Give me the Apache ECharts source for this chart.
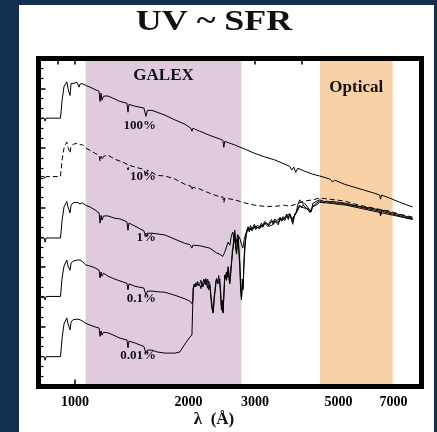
<!DOCTYPE html>
<html><head><meta charset="utf-8">
<script src="https://cdn.jsdelivr.net/npm/echarts@6/dist/echarts.min.js"></script>
<style>
html,body{margin:0;padding:0;background:#14304f;width:437px;height:432px;overflow:hidden;}
#panel{position:absolute;left:19px;top:5px;width:415px;height:427px;background:#fff;}
#chart{position:absolute;left:0;top:0;width:437px;height:432px;}
</style></head><body>
<div id="panel"></div><div id="chart"></div>
<script>
// wavelength (Angstrom), log flux with arbitrary offsets (1 unit = 1 decade)
const spec100 = [[813,4.00],[828,4.00],[833,3.95],[838,4.00],[902,4.00],[915,4.00],[924,4.30],[935,4.53],[951,4.61],[958,4.50],[964,4.43],[970,4.38],[976,4.58],[988,4.58],[1000,4.55],[1012,4.60],[1025,4.52],[1031,4.57],[1044,4.58],[1067,4.55],[1096,4.52],[1130,4.48],[1158,4.45],[1165,4.28],[1172,4.42],[1179,4.30],[1190,4.37],[1223,4.37],[1276,4.32],[1316,4.28],[1373,4.25],[1382,4.10],[1390,4.23],[1442,4.20],[1523,4.17],[1542,4.03],[1556,4.13],[1600,4.13],[1649,4.10],[1732,4.05],[1841,3.97],[1956,3.90],[2029,3.83],[2042,3.78],[2054,3.83],[2144,3.78],[2278,3.71],[2421,3.65],[2466,3.63],[2481,3.51],[2496,3.61],[2653,3.55],[2820,3.48],[2996,3.41],[3185,3.35],[3385,3.30],[3597,3.23],[3712,3.19],[3757,3.13],[3803,3.18],[3850,3.09],[3897,3.16],[4067,3.11],[4271,3.06],[4457,3.03],[4737,2.98],[4824,2.93],[4884,2.96],[5191,2.89],[5517,2.84],[5863,2.79],[6232,2.74],[6425,2.71],[6464,2.64],[6504,2.71],[6829,2.66],[7258,2.59],[7861,2.51]];
const spec10 = [[813,3.02],[828,3.02],[833,2.97],[838,3.02],[902,3.02],[915,3.02],[924,3.30],[935,3.50],[951,3.60],[958,3.51],[970,3.41],[976,3.53],[988,3.56],[1012,3.58],[1031,3.55],[1044,3.56],[1067,3.50],[1096,3.46],[1130,3.41],[1158,3.38],[1165,3.27],[1172,3.36],[1179,3.30],[1190,3.36],[1223,3.38],[1276,3.31],[1316,3.28],[1373,3.23],[1382,3.13],[1390,3.21],[1442,3.18],[1523,3.14],[1542,3.03],[1556,3.13],[1600,3.09],[1649,3.04],[1732,3.03],[1841,2.98],[1956,2.89],[2029,2.86],[2042,2.79],[2054,2.84],[2144,2.81],[2278,2.74],[2421,2.68],[2466,2.68],[2481,2.58],[2496,2.66],[2653,2.63],[2820,2.58],[2996,2.54],[3185,2.52],[3385,2.52],[3597,2.54],[3712,2.52],[3897,2.57],[4067,2.61],[4271,2.63],[4457,2.66],[4737,2.64],[5191,2.61],[5517,2.56],[5863,2.52],[6425,2.47],[6829,2.44],[7258,2.39],[7861,2.34]];
const spec1 = [[813,1.99],[828,1.99],[833,1.92],[838,1.99],[915,1.99],[924,2.29],[935,2.51],[951,2.60],[958,2.51],[970,2.41],[976,2.54],[988,2.58],[1012,2.59],[1031,2.56],[1044,2.58],[1067,2.54],[1096,2.51],[1130,2.46],[1158,2.41],[1165,2.24],[1172,2.37],[1179,2.29],[1190,2.36],[1223,2.36],[1276,2.32],[1316,2.31],[1373,2.26],[1382,2.12],[1390,2.24],[1442,2.19],[1523,2.11],[1542,2.01],[1556,2.07],[1600,2.07],[1649,2.06],[1732,2.04],[1841,1.97],[1956,1.90],[2017,1.88],[2042,1.82],[2054,1.87],[2144,1.86],[2278,1.82],[2373,1.74],[2420,1.72],[2466,1.68],[2494,1.75],[2522,1.74],[2548,1.92],[2574,1.87],[2598,2.02],[2621,2.09],[2645,1.95],[2669,1.87],[2700,2.05],[2735,1.99],[2760,1.90],[2786,1.82],[2818,2.00],[2849,2.09],[2878,2.15],[2907,2.18],[2950,2.13],[3000,2.19],[3050,2.16],[3091,2.15],[3150,2.21],[3220,2.24],[3280,2.19],[3347,2.21],[3420,2.28],[3492,2.32],[3560,2.29],[3640,2.37],[3712,2.39],[3750,2.30],[3780,2.22],[3820,2.36],[3866,2.43],[3900,2.55],[3945,2.63],[4000,2.58],[4067,2.57],[4150,2.50],[4237,2.43],[4271,2.57],[4350,2.60],[4457,2.63],[4600,2.60],[4737,2.60],[5000,2.59],[5245,2.57],[5500,2.54],[5792,2.51],[6100,2.49],[6425,2.46],[6464,2.38],[6504,2.46],[6955,2.41],[7400,2.37],[7861,2.32]];
const spec01 = [[813,1.01],[828,1.01],[833,0.95],[838,1.01],[915,1.01],[924,1.32],[935,1.52],[951,1.62],[958,1.52],[970,1.45],[976,1.57],[988,1.60],[1012,1.62],[1031,1.62],[1044,1.60],[1067,1.54],[1096,1.52],[1130,1.49],[1158,1.45],[1165,1.32],[1172,1.42],[1179,1.35],[1190,1.40],[1223,1.35],[1276,1.30],[1316,1.27],[1373,1.23],[1382,1.12],[1390,1.22],[1442,1.18],[1523,1.15],[1542,1.03],[1556,1.10],[1600,1.10],[1649,1.09],[1732,1.08],[1841,1.03],[1956,0.97],[2017,0.93],[2042,0.89],[2054,0.95],[2058,1.15],[2070,1.22],[2082,1.17],[2094,1.24],[2101,1.20],[2115,1.26],[2128,1.19],[2144,1.23],[2158,1.28],[2170,1.18],[2183,1.20],[2197,1.30],[2210,1.22],[2222,1.31],[2233,1.29],[2248,1.15],[2260,1.27],[2278,1.23],[2292,1.05],[2305,0.90],[2325,0.75],[2337,0.98],[2349,1.09],[2361,1.25],[2373,1.31],[2390,1.22],[2405,1.36],[2421,1.34],[2434,1.10],[2446,0.81],[2458,0.95],[2470,0.75],[2483,1.10],[2496,1.37],[2509,1.30],[2522,1.42],[2535,1.33],[2547,1.51],[2560,1.40],[2574,1.26],[2588,1.45],[2601,1.59],[2614,1.70],[2626,1.87],[2640,1.95],[2653,2.12],[2667,1.90],[2681,1.76],[2695,1.92],[2708,2.01],[2722,1.80],[2735,1.59],[2750,1.20],[2764,0.98],[2778,1.30],[2791,1.15],[2805,1.60],[2820,1.87],[2835,2.00],[2849,2.09],[2863,2.14],[2878,2.18],[2900,2.13],[2922,2.20],[2945,2.14],[2967,2.15],[2990,2.22],[3015,2.16],[3040,2.20],[3065,2.23],[3091,2.18],[3120,2.24],[3150,2.20],[3185,2.27],[3220,2.26],[3250,2.21],[3285,2.21],[3320,2.30],[3355,2.25],[3385,2.31],[3422,2.29],[3460,2.24],[3500,2.34],[3530,2.30],[3563,2.35],[3600,2.31],[3640,2.39],[3680,2.33],[3712,2.40],[3740,2.35],[3780,2.26],[3820,2.38],[3866,2.43],[3900,2.49],[3945,2.54],[3990,2.50],[4030,2.55],[4067,2.51],[4110,2.53],[4160,2.47],[4200,2.42],[4237,2.41],[4271,2.52],[4320,2.55],[4380,2.58],[4457,2.61],[4560,2.58],[4650,2.61],[4737,2.58],[4850,2.60],[4950,2.56],[5050,2.58],[5245,2.55],[5400,2.54],[5600,2.52],[5792,2.50],[6100,2.47],[6425,2.44],[6464,2.36],[6504,2.44],[6955,2.39],[7400,2.35],[7861,2.31]];
const spec001 = [[813,0],[828,0],[833,-0.06],[838,0],[915,0],[924,0.31],[935,0.55],[951,0.65],[958,0.55],[970,0.45],[976,0.58],[988,0.62],[1012,0.63],[1031,0.62],[1044,0.60],[1067,0.56],[1096,0.53],[1130,0.50],[1158,0.48],[1165,0.34],[1172,0.43],[1179,0.36],[1190,0.41],[1223,0.40],[1276,0.35],[1316,0.31],[1373,0.28],[1382,0.15],[1390,0.26],[1442,0.23],[1523,0.17],[1542,0.06],[1556,0.11],[1600,0.11],[1649,0.08],[1732,0.06],[1785,0.06],[1841,0.06],[1897,0.08],[1956,0.21],[2017,0.33],[2042,0.36],[2054,0.36],[2058,1.13],[2070,1.18],[2082,1.21],[2094,1.15],[2101,1.18],[2115,1.22],[2128,1.25],[2144,1.20],[2158,1.14],[2170,1.24],[2183,1.17],[2197,1.22],[2210,1.28],[2222,1.20],[2233,1.25],[2248,1.30],[2260,1.12],[2278,1.20],[2292,1.00],[2305,0.82],[2325,0.73],[2337,0.90],[2349,1.07],[2361,1.18],[2373,1.30],[2390,1.33],[2405,1.24],[2421,1.30],[2434,1.00],[2446,0.78],[2458,0.88],[2470,0.73],[2483,1.02],[2496,1.34],[2509,1.38],[2522,1.28],[2535,1.39],[2547,1.47],[2560,1.30],[2574,1.22],[2588,1.38],[2601,1.55],[2614,1.78],[2626,1.82],[2640,2.02],[2653,2.07],[2667,1.82],[2681,1.72],[2695,1.85],[2708,1.97],[2722,1.70],[2735,1.55],[2750,1.10],[2764,0.95],[2778,1.22],[2791,1.12],[2805,1.50],[2820,1.77],[2835,1.95],[2849,2.06],[2863,2.10],[2878,2.14],[2900,2.09],[2922,2.16],[2945,2.11],[2967,2.12],[2990,2.18],[3015,2.13],[3040,2.17],[3065,2.19],[3091,2.16],[3120,2.21],[3150,2.17],[3185,2.24],[3220,2.24],[3250,2.18],[3285,2.18],[3320,2.27],[3355,2.22],[3385,2.28],[3422,2.27],[3460,2.21],[3500,2.31],[3530,2.27],[3563,2.32],[3600,2.28],[3640,2.36],[3680,2.30],[3712,2.38],[3760,2.30],[3800,2.27],[3866,2.41],[3945,2.52],[4030,2.50],[4120,2.48],[4200,2.42],[4271,2.51],[4380,2.55],[4457,2.59],[4800,2.57],[5245,2.54],[5800,2.48],[6425,2.42],[7000,2.37],[7861,2.30]];

const bandGalex = [1067, 2764];
const bandOptical = [4465, 6955];
const bandNames = ['GALEX', 'Optical'];
const xTickLabels = [1000, 2000, 3000, 5000, 7000];
const xBottomTicks = [1000];
const xTopTicks = [900, 1000, 2000, 3000, 4000, 5000];
const specLabels = ['100%', '10%', '1%', '0.1%', '0.01%'];
const titleText = 'UV ~ SFR';
const xName = 'λ  (Å)';

const serif = "'Liberation Serif','DejaVu Serif',serif";
const chart = echarts.init(document.getElementById('chart'), null, {renderer: 'canvas'});

function lineSeries(name, data, dashed, extra) {
  return Object.assign({
    type: 'line', name: name, data: data, showSymbol: false, symbol: 'none',
    silent: true, z: 3,
    lineStyle: {color: '#000', width: 1, type: dashed ? [5, 3] : 'solid'}
  }, extra || {});
}

const labelY = [126, 177, 237.5, 299, 356];

const option = {
  animation: false,
  backgroundColor: 'transparent',
  grid: {left: 38.5, top: 58.5, width: 383, height: 328, show: false},
  xAxis: [{
    type: 'log', logBase: 10, min: 800, max: 8300, position: 'bottom',
    axisLine: {show: false, onZero: false}, splitLine: {show: false}, minorTick: {show: false},
    axisTick: {show: true, inside: true, length: 7, customValues: xBottomTicks, lineStyle: {color: '#000', width: 1.5}},
    axisLabel: {show: true, customValues: xTickLabels, formatter: v => String(Math.round(v)), margin: 9, color: '#000', fontFamily: serif, fontWeight: 'bold', fontSize: 14}
  }, {
    type: 'log', logBase: 10, min: 800, max: 8300, position: 'top',
    axisLine: {show: false, onZero: false}, splitLine: {show: false}, minorTick: {show: false},
    axisTick: {show: true, inside: true, length: 6, customValues: xTopTicks, lineStyle: {color: '#000', width: 1.5}},
    axisLabel: {show: false}
  }],
  yAxis: {
    type: 'value', min: -0.5, max: 5, interval: 1,
    axisLine: {show: false, onZero: false}, splitLine: {show: false}, axisLabel: {show: false},
    axisTick: {show: true, inside: true, length: 7, lineStyle: {color: '#000', width: 1.5}},
    minorTick: {show: true, splitNumber: 6, length: 5, lineStyle: {color: '#000', width: 1.2}}
  },
  series: [
    lineSeries('100%', spec100, false, {
      markArea: {
        silent: true, z: 1,
        label: {show: true, position: 'insideTop', color: '#111', fontFamily: serif, fontWeight: 'bold', fontSize: 17},
        data: [
          [{name: bandNames[0], xAxis: bandGalex[0], itemStyle: {color: '#dfcbdc'}, label: {distance: 9}}, {xAxis: bandGalex[1]}],
          [{name: bandNames[1], xAxis: bandOptical[0], itemStyle: {color: '#f9d1a6'}, label: {distance: 21}}, {xAxis: bandOptical[1]}]
        ]
      }
    }),
    lineSeries('10%', spec10, true),
    lineSeries('1%', spec1, false),
    lineSeries('0.1%', spec01, false),
    lineSeries('0.01%', spec001, false)
  ],
  graphic: [
    {type: 'text', x: 214, y: 23, scaleX: 1.24, z: 100, style: {text: titleText, font: "bold 29px " + serif, fill: '#111', align: 'center', verticalAlign: 'middle'}},
    {type: 'text', x: 214, y: 420, z: 100, style: {text: xName, font: "bold 17px " + serif, fill: '#111', align: 'center', verticalAlign: 'middle'}},
    {type: 'rect', z: 100, shape: {x: 38.5, y: 58.5, width: 383, height: 328}, style: {fill: 'none', stroke: '#000', lineWidth: 5}}
  ].concat(specLabels.map((t, i) => ({
    type: 'text', x: 156, y: labelY[i], z: 100,
    style: {text: t, font: "bold 13px " + serif, fill: '#111', align: 'right', verticalAlign: 'middle'}
  })))
};
chart.setOption(option);
</script>
</body></html>
